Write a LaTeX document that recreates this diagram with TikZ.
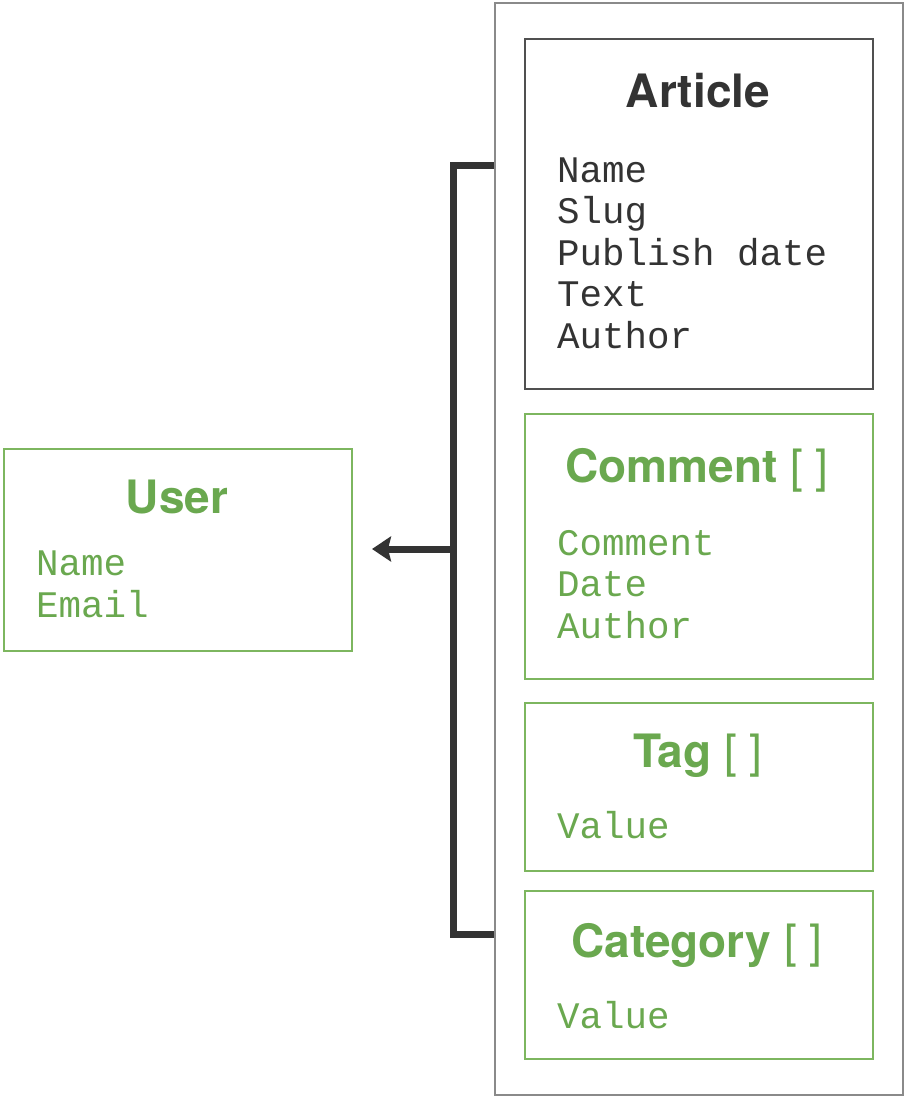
\documentclass[tikz,border=0pt]{standalone}
\usepackage{fontspec}
\setmainfont{TeX Gyre Heros}
\newfontfamily\monofont{Liberation Mono}
\usetikzlibrary{arrows.meta}
\definecolor{dk}{HTML}{333333}
\definecolor{grn}{HTML}{6AA84F}
\definecolor{grnline}{HTML}{7DB65F}
\definecolor{outerc}{HTML}{8A8A8A}
\definecolor{artc}{HTML}{505050}
\tikzset{
  outerbox/.style={draw=outerc, line width=2pt, anchor=north west, inner sep=0pt},
  darkbox/.style={draw=artc, line width=2pt, anchor=north west, inner sep=0pt},
  greenbox/.style={draw=grnline, line width=2pt, anchor=north west, inner sep=0pt},
  heading/.style={anchor=base, inner sep=0pt, font=\fontsize{46}{50}\selectfont\bfseries},
  fields/.style={anchor=base west, inner sep=0pt, align=left, font=\monofont\fontsize{37.5}{41.5}\selectfont},
  conn/.style={draw=dk, line width=7pt},
}
\begin{document}
\begin{tikzpicture}[x=1pt,y=-1pt]
\useasboundingbox (0,0) rectangle (905,1096);
% containers
\node[outerbox, minimum width=408pt, minimum height=1092pt] (outer) at (494,2) {};
\node[darkbox, minimum width=348pt, minimum height=350pt] (article) at (524,38) {};
\node[greenbox, minimum width=348pt, minimum height=265pt] (comment) at (524,413) {};
\node[greenbox, minimum width=348pt, minimum height=168pt] (tag) at (524,702) {};
\node[greenbox, minimum width=348pt, minimum height=168pt] (category) at (524,890) {};
\node[greenbox, minimum width=348pt, minimum height=202pt] (user) at (3,448) {};
% headings
\node[heading, text=dk] (articleh) at (698,107) {Article};
\node[heading, text=grn] (commenth) at (697,482) {Comment {\mdseries[ ]}};
\node[heading, text=grn] (tagh) at (698,767) {Tag {\mdseries[ ]}};
\node[heading, text=grn] (categoryh) at (697,957) {Category {\mdseries[ ]}};
\node[heading, text=grn] (userh) at (177,513) {User};
% fields (anchored at the baseline of the last line)
\node[fields, text=dk] (articlef) at (557,348) {Name\\Slug\\Publish date\\Text\\Author};
\node[fields, text=grn] (commentf) at (557,638) {Comment\\Date\\Author};
\node[fields, text=grn] (tagf) at (557,838) {Value};
\node[fields, text=grn] (categoryf) at (557,1028) {Value};
\node[fields, text=grn] (userf) at (36,617) {Name\\Email};
% connector
\coordinate (ctop) at (outer.west |- 0,165);
\coordinate (cbot) at (outer.west |- 0,934);
\coordinate (cjoin) at (453,549);
\draw[conn, line join=miter] (ctop) -- (cjoin |- ctop) -- (cjoin |- cbot) -- (cbot);
\draw[conn, -{Stealth[length=19pt,width=25pt,inset=3pt]}, shorten >=19pt] (cjoin) -- (user.east |- cjoin);
\end{tikzpicture}
\end{document}
